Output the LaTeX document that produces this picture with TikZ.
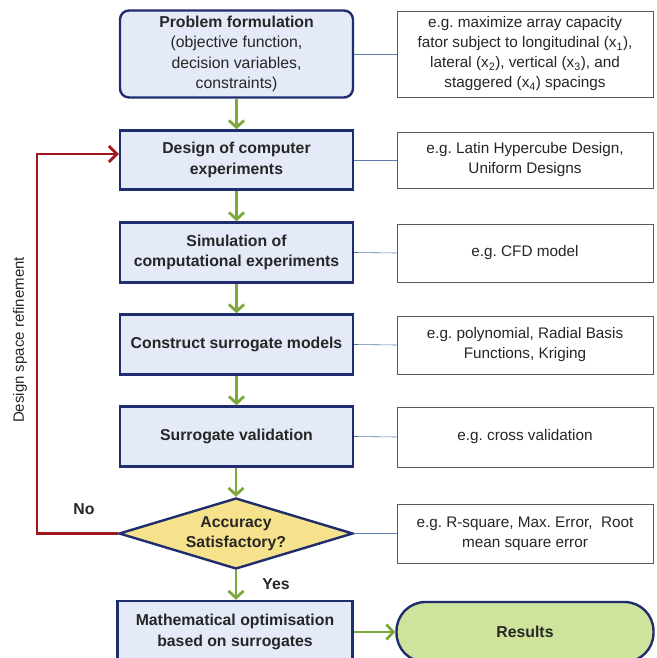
\documentclass[tikz,border=0pt]{standalone}
\usepackage{fontspec}
\setmainfont{Liberation Sans}
\usetikzlibrary{arrows.meta,shapes.geometric}
\definecolor{navy}{HTML}{1F2D6E}
\definecolor{boxfill}{HTML}{E4EAF8}
\definecolor{grn}{HTML}{7DA83A}
\definecolor{dred}{HTML}{A3161C}
\definecolor{yel}{HTML}{F6E28C}
\definecolor{lgrn}{HTML}{CFE49B}
\definecolor{lineblue}{HTML}{5A7AAE}
\frenchspacing
\tikzset{
  mainbox/.style={draw=navy, line width=2.4pt, fill=boxfill, align=center, inner sep=2pt,
     font=\fontsize{15.8}{20.5}\selectfont\bfseries, text=black!85},
  notebox/.style={draw=black!65, line width=0.8pt, fill=white, align=center, inner sep=2pt,
     minimum width=256pt, font=\fontsize{15.3}{20}\selectfont, text=black!85},
  flow/.style={draw=grn, line width=2.8pt, -{Straight Barb[length=7pt,width=15pt,line width=2.8pt]}},
  link/.style={draw=lineblue, line width=0.6pt},
  back/.style={draw=dred, line width=2.8pt, -{Straight Barb[length=8pt,width=16pt,line width=2.8pt]}},
  lbl/.style={font=\fontsize{15.8}{18}\selectfont\bfseries, text=black!85}
}
\begin{document}
\begin{tikzpicture}[x=1pt,y=-1pt]
\useasboundingbox (0,0) rectangle (656,658);
\clip (0,0) rectangle (656,658);
% main column
\node[mainbox, font=\fontsize{15.8}{20.5}\selectfont, rounded corners=9pt, minimum width=233pt, minimum height=87pt] (p1) at (236.5,54)
  {\textbf{Problem formulation}\\ (objective function,\\ decision variables,\\ constraints)};
\node[mainbox, minimum width=233pt, minimum height=59pt] (p2) at (236.5,160) {Design of computer\\ experiments};
\node[mainbox, minimum width=233pt, minimum height=60pt] (p3) at (236.5,252.5) {Simulation of\\ computational experiments};
\node[mainbox, minimum width=233pt, minimum height=60pt] (p4) at (236.5,344.5) {Construct surrogate models};
\node[mainbox, minimum width=233pt, minimum height=60pt] (p5) at (236.5,436.5) {Surrogate validation};
\node[mainbox, fill=yel, shape=diamond, shape aspect=3.4, minimum width=234pt, minimum height=71pt, inner sep=0pt] (d) at (236,533.5) {Accuracy\\ Satisfactory?};
\node[mainbox, minimum width=235pt, minimum height=62pt] (p6) at (235,632) {Mathematical optimisation\\ based on surrogates};
\node[mainbox, fill=lgrn, rounded corners=29pt, minimum width=257pt, minimum height=60pt] (res) at (525,632) {Results};
% notes
\node[notebox, minimum height=86pt] (n1) at (525,54) {e.g. maximize array capacity\\ fator subject to longitudinal (x\textsubscript{1}),\\ lateral (x\textsubscript{2}), vertical (x\textsubscript{3}), and\\ staggered (x\textsubscript{4}) spacings};
\node[notebox, minimum height=56pt] (n2) at (525,160) {e.g. Latin Hypercube Design,\\ Uniform Designs};
\node[notebox, minimum height=58pt] (n3) at (525,253) {e.g. CFD model};
\node[notebox, minimum height=58pt] (n4) at (525,345) {e.g. polynomial, Radial Basis\\ Functions, Kriging};
\node[notebox, minimum height=60pt] (n5) at (525,437) {e.g. cross validation};
\node[notebox, minimum height=59pt] (n6) at (525,533.5) {e.g. R-square, Max. Error,~ Root\\ mean square error};
% links
\draw[link] (p1.east) -- (n1.west);
\draw[link] (p2.east) -- (n2.west);
\draw[link] (p3.east) -- (n3.west);
\draw[link] (p4.east) -- (n4.west);
\draw[link] (p5.east) -- (n5.west);
\draw[link] (d.east) -- (n6.west);
% flow
\draw[flow] (p1.south) -- (p2.north);
\draw[flow] (p2.south) -- (p3.north);
\draw[flow] (p3.south) -- (p4.north);
\draw[flow] (p4.south) -- (p5.north);
\draw[flow] (p5.south -| d.north) -- (d.north);
\draw[flow] (d.south) -- (d.south |- p6.north);
\draw[flow] (p6.east) -- (res.west);
% feedback
\coordinate (c1) at (37,533.5);
\coordinate (c2) at (37,154);
\draw[back] (d.west) -- (c1) -- (c2) -- (p2.west |- c2);
\node[lbl] (no) at (84,509) {No};
\node[lbl] (yes) at (276,584) {Yes};
\node[font=\fontsize{15}{18}\selectfont, text=black!85, rotate=90] (dsr) at (20,340) {Design space refinement};
\end{tikzpicture}
\end{document}
